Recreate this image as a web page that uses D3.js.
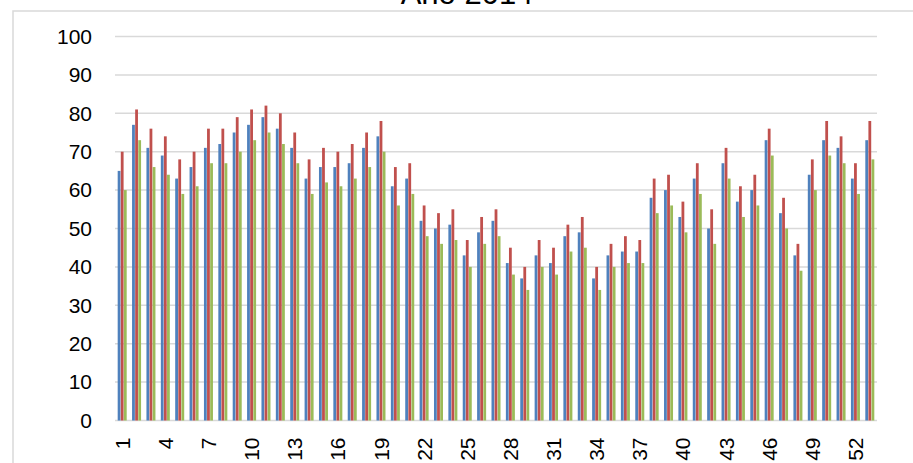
<!DOCTYPE html>
<html>
<head>
<meta charset="utf-8">
<script src="https://cdn.jsdelivr.net/npm/d3@7"></script>
<style>
  html, body { margin: 0; padding: 0; background: #fff; }
  svg { display: block; }
  text { font-family: "Liberation Sans", Arial, sans-serif; fill: #000; }
</style>
</head>
<body>
<svg id="chart" width="913" height="463"></svg>
<script>
(function () {
const title = "Año 2014";
const weeks = d3.range(1, 54).map(String);
const seriesNames = ["Serie 1", "Serie 2", "Serie 3"];
const seriesColors = ["#4F81BD", "#C0504D", "#9BBB59"];
const serie1 = [65,77,71,69,63,66,71,72,75,77,79,76,71,63,66,66,67,71,74,61,63,52,50,51,43,49,52,41,37,43,41,48,49,37,43,44,44,58,60,53,63,50,67,57,60,73,54,43,64,73,71,63,73];
const serie2 = [70,81,76,74,68,70,76,76,79,81,82,80,75,68,71,70,72,75,78,66,67,56,54,55,47,53,55,45,40,47,45,51,53,40,46,48,47,63,64,57,67,55,71,61,64,76,58,46,68,78,74,67,78];
const serie3 = [60,73,66,64,59,61,67,67,70,73,75,72,67,59,62,61,63,66,70,56,59,48,46,47,40,46,48,38,34,40,38,44,45,34,40,41,41,54,56,49,59,46,63,53,56,69,50,39,60,69,67,59,68];
const yTicks = [0,10,20,30,40,50,60,70,80,90,100];
const xTickLabels = weeks.filter((d, i) => i % 3 === 0);

const series = [serie1, serie2, serie3];

const svg = d3.select("#chart");
const plotLeft = 115, plotRight = 877, plotTop = 36.5, plotBottom = 420.5;

// outer frame (chart area border)
svg.append("rect")
  .attr("x", 13).attr("y", 11)
  .attr("width", 1000).attr("height", 600)
  .attr("fill", "none").attr("stroke", "#D9D9D9").attr("stroke-width", 1.5);

// title (partly cut at top)
svg.append("text")
  .attr("x", 467).attr("y", 4)
  .attr("text-anchor", "middle")
  .style("font-size", "31px")
  .text(title);

const x = d3.scaleBand().domain(weeks).range([plotLeft, plotRight]).padding(0);
const xs = d3.scaleBand().domain(seriesNames).range([-4.5, 4.5]).paddingInner(0.1);
const y = d3.scaleLinear().domain([0, 100]).range([plotBottom, plotTop]);

// gridlines
svg.append("g").selectAll("line").data(yTicks).join("line")
  .attr("x1", plotLeft).attr("x2", plotRight)
  .attr("y1", d => y(d)).attr("y2", d => y(d))
  .attr("stroke", "#D9D9D9").attr("stroke-width", 1.5);

// y axis labels
const yAxis = d3.axisLeft(y).tickValues(yTicks).tickSize(0).tickPadding(0);
const gy = svg.append("g").attr("transform", "translate(92,0)").call(yAxis);
gy.select(".domain").remove();
gy.selectAll("text")
  .style("font-size", "21px")
  .style("font-family", "'Liberation Sans', Arial, sans-serif")
  .attr("fill", "#000");

// bars
series.forEach((vals, si) => {
  svg.append("g").selectAll("rect").data(vals).join("rect")
    .attr("x", (d, i) => x(weeks[i]) + x.bandwidth() / 2 + xs(seriesNames[si]))
    .attr("width", xs.bandwidth())
    .attr("y", d => y(d))
    .attr("height", d => y(0) - y(d))
    .attr("fill", seriesColors[si]);
});

// x axis labels (rotated)
const xAxis = d3.axisBottom(x).tickValues(xTickLabels).tickSize(0).tickPadding(0);
const gx = svg.append("g").attr("transform", `translate(0,${plotBottom})`).call(xAxis);
gx.select(".domain").remove();
gx.selectAll("text")
  .style("font-size", "21px")
  .style("font-family", "'Liberation Sans', Arial, sans-serif")
  .attr("fill", "#000")
  .attr("text-anchor", "end")
  .attr("transform", "rotate(-90)")
  .attr("x", -17)
  .attr("y", 0)
  .attr("dy", "0.36em");
})();
</script>
</body>
</html>
